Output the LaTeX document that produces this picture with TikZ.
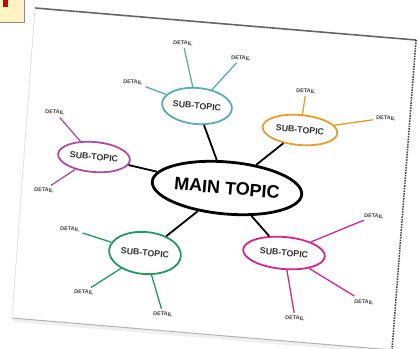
\documentclass[tikz,border=0pt]{standalone}
\usepackage{fontspec}
\setsansfont{Liberation Sans}
\usetikzlibrary{shapes.geometric}
\definecolor{teal1}{HTML}{5FAAB4}
\definecolor{orange1}{HTML}{E0A030}
\definecolor{plum1}{HTML}{AA5096}
\definecolor{green1}{HTML}{289664}
\definecolor{pink1}{HTML}{D2288C}
\definecolor{note1}{HTML}{FFF3C4}
\begin{document}
\begin{tikzpicture}[x=1pt,y=-1pt,topic/.style={ellipse,draw,line width=2.8pt,fill=white,minimum width=150pt,minimum height=52pt,inner sep=0pt,rotate=-5,font=\sffamily\bfseries\fontsize{18}{18}\selectfont},subtopic/.style={ellipse,draw,line width=1.8pt,fill=white,inner sep=0pt,rotate=-5,text=black!80,font=\sffamily\bfseries\fontsize{8.8}{9}\selectfont},detail/.style={inner sep=3pt,rotate=-5,text=black!75,font=\sffamily\bfseries\fontsize{5.5}{6}\selectfont},branch/.style={line width=1.8pt},twig/.style={line width=1.3pt}]
\useasboundingbox (0,0) rectangle (419,348);
\fill[white] (0,0) rectangle (419,348);
% sheet
\fill[black!6] (14,322) -- (394,354) -- (396,348) -- (12,316) -- cycle;
\fill[white] (35,8) -- (416,40) -- (392,350) -- (12,318) -- cycle;
\draw[black!60,line width=1.6pt] (35,8) -- (416,40);
\draw[black!70,line width=1.6pt,densely dotted] (416,40) -- (392,350);
\draw[black!30,line width=1pt] (12,318) -- (392,350);
\draw[black!12,line width=0.8pt] (35,8) -- (12,318);
% note in the corner
\fill[note1] (0,0) rectangle (24,22);
\draw[black!45,line width=0.8pt] (0,22) -- (24,22) -- (24,0);
\fill[red!80!black] (3,0) -- (8,0) -- (8,7) -- (3,7) -- cycle;
% topics
\coordinate (M) at (227,188);
\node[topic] (main) at (M) {MAIN TOPIC};
\node[subtopic,draw=teal1,minimum width=70pt,minimum height=36pt] (blue) at (197,106) {SUB-TOPIC};
\node[subtopic,draw=orange1,minimum width=75pt,minimum height=30pt] (orange) at (300,130) {SUB-TOPIC};
\node[subtopic,draw=plum1,minimum width=72pt,minimum height=30pt] (plum) at (94,157) {SUB-TOPIC};
\node[subtopic,draw=green1,minimum width=72pt,minimum height=42pt] (green) at (145,253) {SUB-TOPIC};
\node[subtopic,draw=pink1,minimum width=82pt,minimum height=32pt] (pink) at (284,253) {SUB-TOPIC};
\draw[branch] (main) -- (blue);
\draw[branch] (main) -- (orange);
\draw[branch] (main) -- (plum);
\draw[branch] (main) -- (green);
\draw[branch] (main) -- (pink);
% details
\node[detail] (blue1) at (183,43) {DETAIL};
\node[detail] (blue2) at (133,82) {DETAIL};
\node[detail] (blue3) at (241,58) {DETAIL};
\node[detail] (orange1) at (306,91) {DETAIL};
\node[detail] (orange2) at (386,118) {DETAIL};
\node[detail] (plum1) at (55,112) {DETAIL};
\node[detail] (plum2) at (44,190) {DETAIL};
\node[detail] (green1) at (70,229) {DETAIL};
\node[detail] (green2) at (84,292) {DETAIL};
\node[detail] (green3) at (163,314) {DETAIL};
\node[detail] (pink1) at (374,216) {DETAIL};
\node[detail] (pink2) at (364,302) {DETAIL};
\node[detail] (pink3) at (295,318) {DETAIL};
\draw[twig,teal1] (blue) -- (blue1);
\draw[twig,teal1] (blue) -- (blue2);
\draw[twig,teal1] (blue) -- (blue3);
\draw[twig,orange1] (orange) -- (orange1);
\draw[twig,orange1] (orange) -- (orange2);
\draw[twig,plum1] (plum) -- (plum1);
\draw[twig,plum1] (plum) -- (plum2);
\draw[twig,green1] (green) -- (green1);
\draw[twig,green1] (green) -- (green2);
\draw[twig,green1] (green) -- (green3);
\draw[twig,pink1] (pink) -- (pink1);
\draw[twig,pink1] (pink) -- (pink2);
\draw[twig,pink1] (pink) -- (pink3);
\end{tikzpicture}
\end{document}
